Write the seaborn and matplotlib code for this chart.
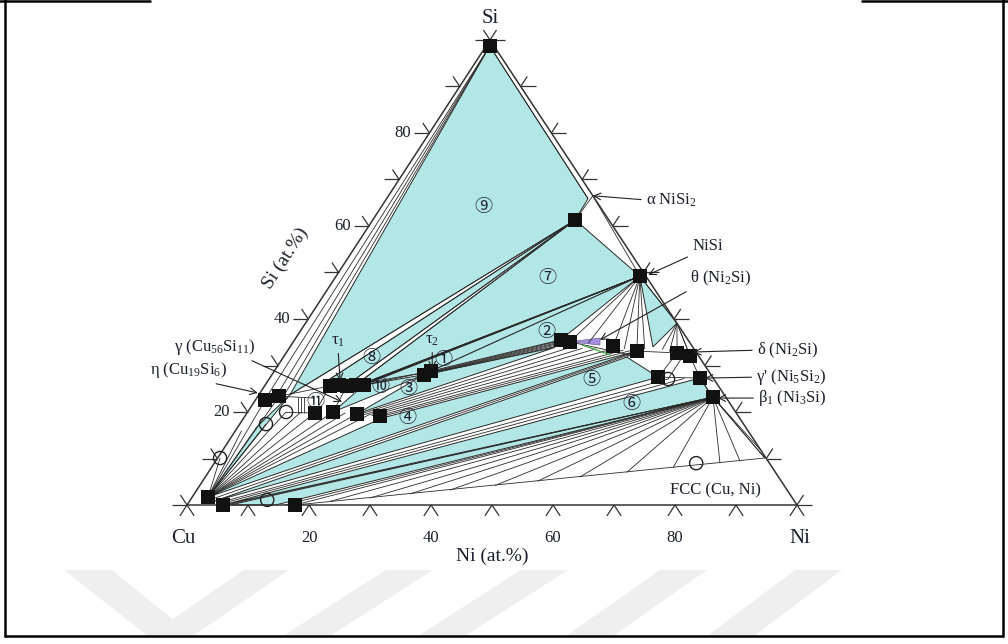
import matplotlib
matplotlib.use("Agg")
import numpy as np
import pandas as pd
import matplotlib.pyplot as plt
import seaborn as sns
from matplotlib.patches import Polygon
from matplotlib.lines import Line2D
from matplotlib.collections import LineCollection

# ---- phase compositions, at.% (Ni, Si) ----
si_corner = (0.6, 98.7)
nisi2 = (33.5, 66.5)
x_phase = (33.2, 61.3)
nisi = (49.8, 49.2)
ni3si2 = (60.9, 39.1)
liquid = [(5.1, 23.7), (9.7, 26.7), (12.8, 24.7), (14.5, 25.2)]
tau1 = [(10.7, 25.6), (12.1, 25.8), (13.5, 25.6), (14.9, 25.8), (16.2, 25.8)]
tau2 = [(24.9, 28.0), (25.7, 28.8)]
eta = [(1.6, 22.6), (3.5, 23.4)]
gamma = [(11.1, 19.8), (14.0, 20.0), (18.1, 19.6), (22.1, 19.1)]
theta = [(43.6, 35.5), (45.3, 35.1), (52.9, 34.2), (57.3, 33.1)]
delta = [(64.1, 32.7), (66.6, 32.0)]
gamma_p = [(63.6, 27.5), (70.5, 27.3)]
beta1 = (74.7, 23.2)
fcc_cu = [(2.6, 1.7), (5.9, 0.0), (17.7, 0.0)]
fcc_edge = [(17.7, 0.0), (89.7, 10.1)]
open_pts = [(4.3, 17.4), (6.3, 20.0), (0.4, 10.1), (12.6, 1.1), (65.4, 27.1), (79.0, 9.0)]
theta_ht = [(45.3, 35.1), (49.9, 35.9), (50.6, 34.4)]
green_line = [(47.7, 34.4), (53.3, 32.3)]

# three-phase triangles (filled)
tie_triangles = {
    "9": [si_corner, (33.0, 65.9), x_phase, liquid[0]],
    "8": [x_phase, liquid[1], liquid[2]],
    "7": [x_phase, nisi, liquid[3]],
    "1": [nisi, tau1[4], tau2[1]],
    "2": [nisi, tau2[1], theta[0]],
    "10": [tau1[4], tau2[0], gamma[1]],
    "3": [tau2[0], (43.5, 33.9), gamma[2]],
    "4": [(22.7, 18.7), theta[3], fcc_cu[0]],
    "5": [(4.0, 0.8), (56.3, 31.8), gamma_p[0]],
    "6": [fcc_cu[1], gamma_p[1], beta1],
    "a": [nisi, ni3si2, (59.5, 34.0)],
    "b": [fcc_cu[0], (3.1, 16.8), liquid[0]],
    "c": [beta1, (7.0, 0.0), (14.5, 0.0)],
}

# two-phase tie lines: anchor phase -> list of other ends
fans = [
    (si_corner, [(1.5, 23.2), (3.0, 23.4), (4.2, 23.6)]),
    (x_phase, [liquid[0], liquid[1], liquid[2], liquid[3], nisi2]),
    (nisi, [(14.8, 25.4), (15.1, 25.5), (15.4, 25.6), (15.7, 25.7), (16.0, 25.8)]),
    (nisi, [theta[1], (48.5, 34.8), theta[2], (55.0, 33.6), theta[3], (58.4, 33.5)]),
    (ni3si2, [(61.3, 33.4), (62.7, 33.0), delta[0], delta[1]]),
    (fcc_cu[0], [(0.4, 10.1), (1.0, 16.0), eta[0], eta[1], (4.3, 17.4), (6.3, 20.0),
                 (8.7, 19.9), gamma[0], gamma[1], (16.1, 19.8), gamma[2], (20.1, 19.3)]),
    (beta1, [(89.7, 10.1), (88.2, 11.8), (86.0, 9.4), (82.9, 9.0), (75.7, 8.0), (68.6, 7.0),
             (61.4, 6.0), (54.9, 5.1), (48.4, 4.2), (41.5, 3.2), (35.4, 2.4), (29.2, 1.5),
             (23.1, 0.8), (17.7, 0.0), (16.0, 0.0), (6.4, 0.0)]),
]

# hatched bands: start list -> end list
band_tau2 = ([(25.7, 28.6), (25.5, 28.4), (25.3, 28.2), (25.1, 28.1), (24.9, 27.9)],
             [(43.6, 35.3), (43.6, 35.0), (43.5, 34.7), (43.5, 34.4), (43.5, 34.1)])
band_gamma = ([(18.6, 19.5), (19.3, 19.4), (20.0, 19.3), (20.7, 19.2), (21.4, 19.0), (22.1, 18.9)],
              [(45.8, 33.8), (48.1, 33.7), (50.4, 33.6), (52.7, 33.4), (55.0, 33.3), (56.2, 33.2)])
band_cu = ([(3.3, 1.2), (4.8, 0.4), (5.3, 0.2)],
           [(56.8, 32.5), (65.4, 27.1), (68.0, 27.2)])

single_lines = [
    (nisi2, nisi), (nisi, ni3si2), (ni3si2, delta[1]), (delta[1], gamma_p[1]),
    (gamma_p[1], beta1), (beta1, (89.7, 10.1)), (si_corner, (33.0, 65.9)),
    (theta[3], delta[0]), (delta[0], gamma_p[0]), ((65.4, 32.4), (65.4, 27.1)),
    ((16.2, 26.3), (25.3, 28.6)), (eta[1], tau1[0]), (eta[1], (9.5, 23.0)),
    ((6.8, 23.1), (8.5, 19.7)), ((7.3, 23.1), (9.0, 19.7)), ((7.8, 23.1), (9.5, 19.7)),
    ((6.3, 19.9), gamma[0]), (tau1[0], gamma[0]), (tau1[2], gamma[1]),
    (theta[1], (56.5, 32.3)), (theta[3], (56.3, 31.8)), (gamma_p[0], gamma_p[1]),
]

circled = ["①", "②", "③", "④", "⑤", "⑥", "⑦", "⑧", "⑨", "⑩", "⑪"]

# ---- geometry of the (squashed) triangle on the page ----
SKEW = 0.4967
PX_X, PX_Y = 6.1, 4.65


def tern(p):
    return p[0] + SKEW * p[1], p[1]


def px_vec(dx, dy, length):
    n = np.hypot(dx, dy)
    return dx / n * length / PX_X, -dy / n * length / PX_Y


sns.set_theme(style="white")
plt.rcParams["font.family"] = ["Liberation Serif", "DejaVu Serif"]
plt.rcParams["mathtext.fontset"] = "custom"
plt.rcParams["mathtext.rm"] = "Liberation Serif"
plt.rcParams["mathtext.it"] = "Liberation Serif:italic"

TXT = "#1e1e2c"
LN = "#2a2a2a"
CYAN = "#b2e7e5"

fig = plt.figure(figsize=(10.08, 6.44), dpi=100)
ax = fig.add_axes([0, 0, 1, 1])
ax.set_xlim(-30.66, 134.59)
ax.set_ylim(-29.89, 108.6)
ax.axis("off")

# faint watermark stripes and page frame
stripes = [[(64, 570), (112, 570), (193, 636), (148, 636)],
           [(148, 636), (193, 636), (289, 570), (244, 570)],
           [(283, 636), (330, 636), (433, 570), (386, 570)],
           [(418, 636), (465, 636), (568, 570), (521, 570)],
           [(566, 636), (613, 636), (707, 570), (660, 570)],
           [(707, 636), (754, 636), (842, 570), (795, 570)]]
for st in stripes:
    fig.add_artist(Polygon([(x / 1008, 1 - y / 644) for x, y in st], closed=True,
                           transform=fig.transFigure, fc="#efefef", ec="none", zorder=0))
for xs, ys in [([5, 5], [0, 636]), ([5, 1003], [636, 636]), ([1003, 1003], [0, 636]),
               ([0, 150], [1, 1]), ([862, 1008], [1, 1])]:
    fig.add_artist(Line2D([x / 1008 for x in xs], [1 - y / 644 for y in ys],
                          transform=fig.transFigure, color="black", lw=1.8))

# filled tie triangles
for key, verts in tie_triangles.items():
    ax.add_patch(Polygon([tern(v) for v in verts], closed=True, fc=CYAN,
                         ec=LN, lw=0.7, zorder=1))
ax.add_patch(Polygon([tern(v) for v in theta_ht], closed=True, fc="#a88fe0",
                     ec="#6a5a9a", lw=0.5, zorder=2))

segs = []
for anchor, ends in fans:
    segs += [[tern(anchor), tern(e)] for e in ends]
for starts, ends in [band_tau2, band_gamma, band_cu]:
    segs += [[tern(a), tern(b)] for a, b in zip(starts, ends)]
segs += [[tern(a), tern(b)] for a, b in single_lines]
segs.append([tern(fcc_edge[0]), tern(fcc_edge[1])])
ax.add_collection(LineCollection(segs, colors=LN, linewidths=0.6, zorder=2))
ax.plot(*zip(*[tern(p) for p in green_line]), color="#3aa83a", lw=0.9, zorder=2)

# triangle frame
cu, ni, si = (0, 0), (100, 0), (0, 100)
ax.plot(*zip(*[tern(p) for p in [cu, ni, si, cu]]), color="#333333", lw=1.1, zorder=3)

# ticks: extensions of the grid lines outward
up_l = (303, -465)
up_r = (-307, -465)
tick = []
for v in range(0, 101, 10):
    bx, by = tern((v, 0))
    for d in [px_vec(-up_l[0], -up_l[1], 13), px_vec(-up_r[0], -up_r[1], 13)]:
        tick.append([(bx, by), (bx + d[0], by + d[1])])
    lx, ly = tern((0, v))
    for d in [px_vec(-1, 0, 15), px_vec(up_r[0], up_r[1], 12)]:
        tick.append([(lx, ly), (lx + d[0], ly + d[1])])
    rx, ry = tern((100 - v, v))
    for d in [px_vec(1, 0, 15), px_vec(up_l[0], up_l[1], 12)]:
        tick.append([(rx, ry), (rx + d[0], ry + d[1])])
ax.add_collection(LineCollection(tick, colors="#333333", linewidths=0.9, zorder=3))

# phase points
squares = [si_corner, x_phase, nisi] + tau1 + tau2 + eta + gamma + theta + delta + gamma_p + [beta1] + fcc_cu
sq = pd.DataFrame([tern(p) for p in squares], columns=["x", "y"])
sns.scatterplot(data=sq, x="x", y="y", marker="s", s=105, color="#111111",
                linewidth=0, ax=ax, zorder=5, legend=False)
op = np.array([tern(p) for p in open_pts])
ax.scatter(op[:, 0], op[:, 1], s=90, facecolors="none", edgecolors="#222222",
           linewidths=1.0, zorder=5)

# axis labels
ax.text(49.67, 104.7, "Si", ha="center", va="center", fontsize=15, color=TXT)
ax.text(-0.66, -7.1, "Cu", ha="center", va="center", fontsize=15, color=TXT)
ax.text(100.5, -7.1, "Ni", ha="center", va="center", fontsize=15, color=TXT)
for v in [20, 40, 60, 80]:
    ax.text(v, -7.1, str(v), ha="center", va="center", fontsize=12, color=TXT)
    lx, ly = tern((0, v))
    ax.text(lx - 3.0, ly, str(v), ha="right", va="center", fontsize=12, color=TXT)
ax.text(50.0, -11.0, "Ni (at.%)", ha="center", va="center", fontsize=14, color=TXT)
ax.text(16.1, 53.1, "Si (at.%)", ha="center", va="center", fontsize=14,
        rotation=57, color=TXT)
ax.text(86.6, 3.2, "FCC (Cu, Ni)", ha="center", va="center", fontsize=12, color=TXT)

# phase labels with arrows
arrow = dict(arrowstyle="->", color="#222222", lw=0.8, shrinkA=1, shrinkB=0)
notes = [
    (r"α NiSi$_2$", tern(nisi2), (75.2, 65.6), "left", (0, 0.5)),
    ("NiSi", (75.6, 49.5), (82.8, 55.8), "left", (0.1, 0.0)),
    (r"θ (Ni$_2$Si)", (67.7, 35.5), (82.5, 48.8), "left", (0.05, 0.0)),
    (r"δ (Ni$_2$Si)", (83.0, 32.9), (93.4, 33.3), "left", (0, 0.5)),
    (r"γ' (Ni$_5$Si$_2$)", (84.9, 27.3), (93.3, 27.5), "left", (0, 0.5)),
    (r"β$_1$ (Ni$_3$Si)", (87.0, 23.0), (93.6, 23.0), "left", (0, 0.5)),
    (r"γ (Cu$_{56}$Si$_{11}$)", (25.4, 22.2), (-2.1, 34.0), "left", (0.85, 0.0)),
    (r"η (Cu$_{19}$Si$_6$)", (11.6, 24.1), (-6.1, 29.0), "left", (0.65, 0.0)),
    (r"τ$_1$", (25.1, 26.7), (24.75, 35.3), "center", (0.5, 0.0)),
    (r"τ$_2$", (40.2, 29.2), (40.2, 35.5), "center", (0.5, 0.0)),
]
for label, tip, pos, ha, rel in notes:
    ax.annotate(label, xy=tip, xytext=pos, ha=ha, va="center", fontsize=12,
                color=TXT, zorder=6, arrowprops=dict(arrow, relpos=rel))

# region numbers
label_pos = [(26.5, 31.2), (40.5, 37.2), (23.9, 24.9), (26.9, 18.7), (53.0, 26.9),
             (62.0, 21.7), (34.8, 48.8), (14.6, 31.6), (16.7, 64.1), (19.0, 25.4), (10.0, 22.2)]
for txt, p in zip(circled, label_pos):
    x, y = tern(p)
    ax.text(x, y, txt, ha="center", va="center", fontsize=13, color=TXT,
            family=["Noto Sans CJK JP", "DejaVu Sans"], zorder=6)

fig.savefig("out.png", dpi=100)
